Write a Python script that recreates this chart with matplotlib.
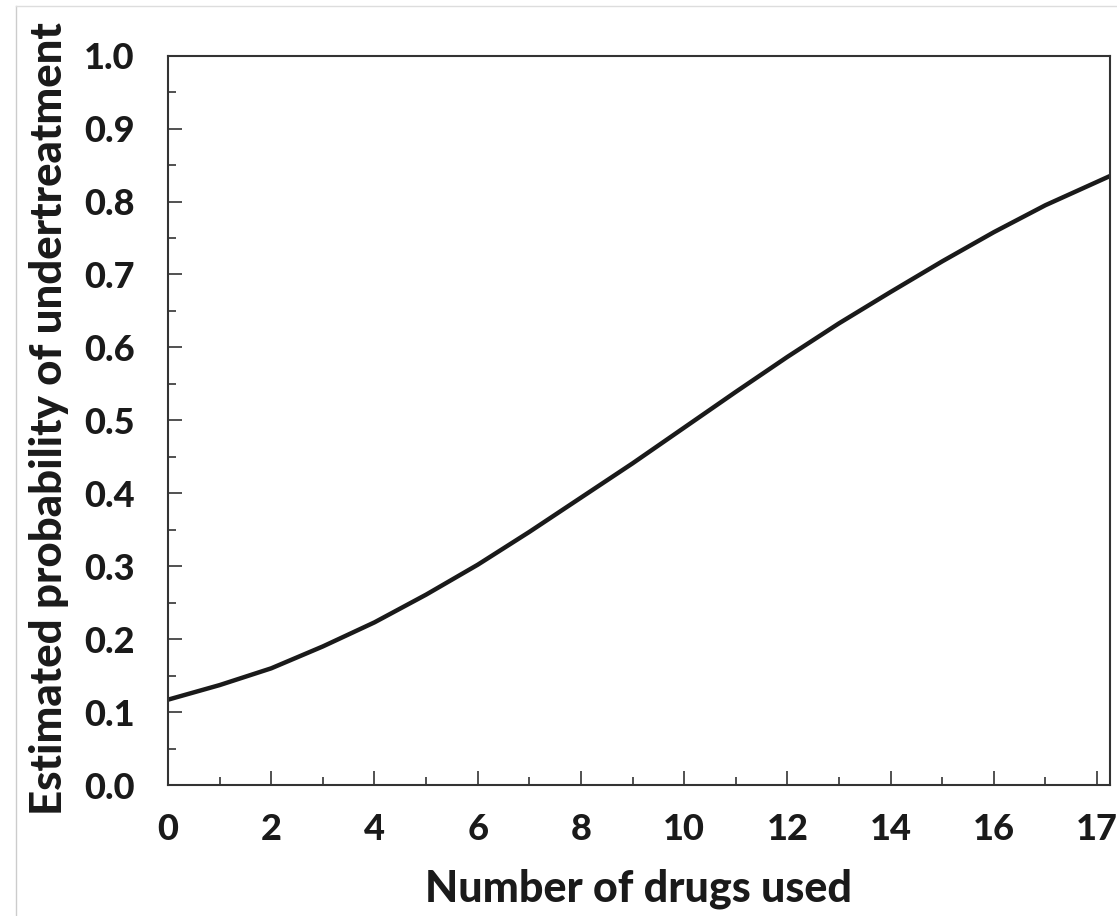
import numpy as np
import matplotlib.pyplot as plt
from matplotlib.lines import Line2D
from matplotlib.ticker import MultipleLocator

# Estimated probability curve, sampled along the x axis
drugs = [0, 1, 2, 3, 4, 5, 6, 7, 8, 9, 10, 11, 12, 13, 14, 15, 16, 17, 18, 18.25]
prob = [0.117, 0.137, 0.160, 0.190, 0.223, 0.261, 0.302, 0.347, 0.394, 0.441,
        0.490, 0.539, 0.587, 0.633, 0.676, 0.718, 0.758, 0.795, 0.827, 0.835]

xtick_pos = [0, 2, 4, 6, 8, 10, 12, 14, 16, 18]
xtick_labels = ["0", "2", "4", "6", "8", "10", "12", "14", "16", "17"]
ytick_pos = [0.0, 0.1, 0.2, 0.3, 0.4, 0.5, 0.6, 0.7, 0.8, 0.9, 1.0]

plt.rcParams["font.family"] = ["Lato", "DejaVu Sans"]

fig = plt.figure(figsize=(11.17, 9.16), dpi=100)
ax = fig.add_axes([0.1504, 0.1430, 0.8433, 0.7962])

ax.plot(drugs, prob, color="#1a1a1a", linewidth=3.2, solid_joinstyle="round")

ax.set_xlim(0, 18.25)
ax.set_ylim(0, 1.0)
ax.set_xticks(xtick_pos)
ax.set_xticklabels(xtick_labels)
ax.set_yticks(ytick_pos)
ax.set_yticklabels([f"{v:.1f}" for v in ytick_pos])
ax.xaxis.set_minor_locator(MultipleLocator(1))
ax.yaxis.set_minor_locator(MultipleLocator(0.05))

ax.tick_params(which="both", direction="in", color="#333333", width=1.2,
               top=False, right=False)
ax.tick_params(which="major", length=10, labelsize=26)
ax.tick_params(which="minor", length=6)
ax.tick_params(axis="x", which="major", pad=20)
ax.tick_params(axis="y", which="major", pad=24)
for lbl in ax.get_xticklabels() + ax.get_yticklabels():
    lbl.set_fontweight("black")
    lbl.set_color("#1a1a1a")

for sp in ax.spines.values():
    sp.set_linewidth(1.5)
    sp.set_color("#333333")

# x-axis title placed on its baseline below the tick labels
fig.text(0.572, 0.0153, "Number of drugs used", fontsize=31,
         fontweight="black", color="#1a1a1a", ha="center", va="baseline")
ax.set_ylabel("Estimated probability of undertreatment", fontsize=31.5,
              fontweight="black", color="#1a1a1a")
ax.yaxis.set_label_coords(-0.105, 0.503)

# thin page frame along the left and top edges
fig.add_artist(Line2D([0.0143, 0.0143], [0, 0.9935], transform=fig.transFigure,
                      color="#cccccc", linewidth=1))
fig.add_artist(Line2D([0.0143, 1.0], [0.9935, 0.9935], transform=fig.transFigure,
                      color="#dddddd", linewidth=1))

fig.savefig("out.png", dpi=100)
